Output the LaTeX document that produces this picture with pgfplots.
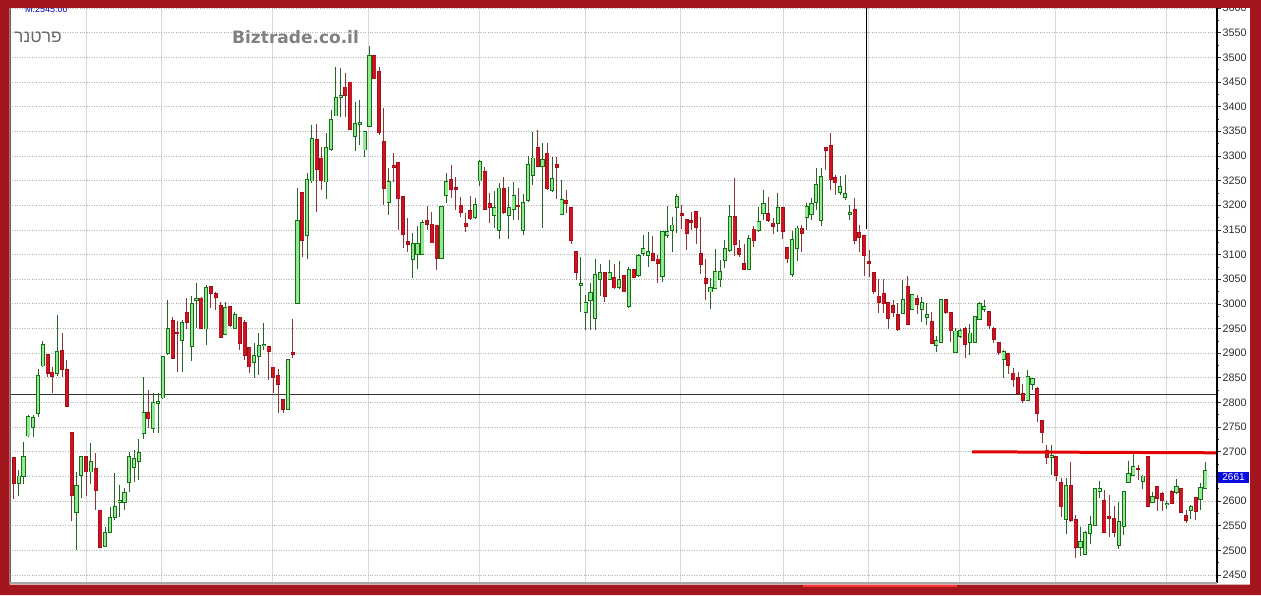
\documentclass[border=0pt]{standalone}
\usepackage{pgfplots}
\usepackage{pgfplotstable}
\pgfplotsset{compat=1.18}
\usepackage{fontspec}
\setmainfont{Liberation Sans}
\newfontfamily\hebfont[Script=Hebrew]{Liberation Sans}
\newfontfamily\dejavu{DejaVu Sans}
\TeXXeTstate=1

\definecolor{framec}{RGB}{163,22,30}
\definecolor{gfill}{RGB}{144,234,144}
\definecolor{gline}{RGB}{22,110,22}
\definecolor{gwick}{RGB}{40,100,40}
\definecolor{rfill}{RGB}{205,20,35}
\definecolor{rline}{RGB}{160,14,24}
\definecolor{rwick}{RGB}{140,55,55}
\definecolor{tickc}{RGB}{45,45,45}
\definecolor{pricebox}{RGB}{10,10,225}
\definecolor{wmark}{RGB}{128,128,128}
\definecolor{hebc}{RGB}{105,105,105}

\pgfplotstableread{
i o h l c
0 2687 2690 2604 2637
1 2636 2663 2610 2650
2 2650 2720 2635 2689
3 2733 2775 2731 2771
4 2750 2775 2731 2769
5 2778 2867 2771 2854
6 2875 2925 2871 2916
7 2896 2897 2852 2859
8 2861 2871 2820 2854
9 2859 2978 2854 2903
10 2905 2940 2852 2867
11 2866 2886 2792 2793
12 2738 2739 2560 2612
13 2577 2660 2500 2631
14 2653 2690 2606 2689
15 2689 2690 2610 2660
16 2660 2717 2635 2679
17 2666 2698 2583 2623
18 2581 2582 2504 2506
19 2508 2548 2506 2535
20 2538 2589 2537 2566
21 2568 2658 2562 2589
22 2599 2633 2568 2601
23 2598 2626 2582 2617
24 2638 2700 2619 2689
25 2669 2704 2639 2685
26 2682 2725 2643 2698
27 2738 2851 2727 2779
28 2779 2825 2748 2769
29 2749 2820 2738 2800
30 2799 2819 2738 2801
31 2810 2894 2808 2893
32 2900 3008 2896 2949
33 2965 2974 2889 2890
34 2941 2965 2862 2940
35 2927 2967 2862 2961
36 2982 3011 2950 2964
37 2915 3015 2885 2999
38 3008 3042 2951 3010
39 3011 3013 2950 2951
40 2950 3038 2917 3032
41 3034 3035 2991 3022
42 3020 3025 2988 3013
43 2996 3004 2930 2933
44 2939 3004 2937 2992
45 2993 2994 2954 2957
46 2951 2984 2949 2978
47 2971 2974 2906 2920
48 2961 2967 2886 2896
49 2910 2911 2859 2873
50 2882 2920 2849 2894
51 2894 2940 2856 2915
52 2916 2962 2906 2917
53 2912 2913 2846 2905
54 2871 2872 2819 2852
55 2854 2867 2779 2838
56 2806 2807 2779 2787
57 2786 2887 2785 2886
58 2901 2969 2890 2899
59 3001 3234 3000 3169
60 3225 3227 3096 3130
61 3140 3265 3092 3251
62 3250 3363 3245 3334
63 3332 3365 3187 3273
64 3295 3319 3231 3250
65 3248 3346 3212 3316
66 3314 3393 3311 3373
67 3382 3481 3380 3418
68 3419 3478 3378 3421
69 3439 3468 3378 3424
70 3449 3450 3353 3354
71 3340 3410 3311 3365
72 3365 3413 3322 3367
73 3313 3349 3298 3348
74 3361 3523 3360 3503
75 3503 3504 3456 3457
76 3470 3480 3342 3349
77 3329 3397 3201 3234
78 3207 3275 3180 3248
79 3279 3305 3248 3277
80 3285 3286 3150 3214
81 3217 3218 3113 3142
82 3126 3174 3106 3121
83 3090 3144 3052 3121
84 3101 3157 3070 3121
85 3101 3170 3099 3165
86 3169 3198 3150 3161
87 3161 3186 3124 3125
88 3159 3160 3069 3093
89 3093 3199 3092 3196
90 3221 3265 3204 3247
91 3251 3282 3214 3233
92 3235 3258 3190 3233
93 3199 3217 3177 3187
94 3163 3184 3146 3157
95 3188 3219 3170 3173
96 3176 3215 3173 3200
97 3250 3292 3239 3287
98 3267 3277 3190 3192
99 3202 3225 3165 3197
100 3180 3229 3153 3195
101 3150 3245 3131 3234
102 3234 3258 3183 3186
103 3180 3236 3131 3194
104 3193 3247 3170 3219
105 3199 3234 3170 3198
106 3150 3223 3140 3204
107 3211 3300 3207 3282
108 3261 3349 3241 3295
109 3317 3353 3279 3280
110 3280 3326 3153 3292
111 3305 3326 3231 3234
112 3231 3298 3227 3253
113 3282 3298 3212 3277
114 3182 3251 3180 3211
115 3209 3231 3184 3204
116 3195 3196 3121 3130
117 3105 3106 3048 3065
118 3039 3096 2984 3041
119 2984 3018 2947 3001
120 3008 3043 2948 3023
121 2971 3092 2947 3059
122 3050 3081 3015 3063
123 3063 3064 3004 3015
124 3050 3089 3048 3062
125 3053 3080 3031 3033
126 3035 3086 3031 3048
127 3057 3058 3024 3025
128 2996 3075 2991 3069
129 3069 3071 3052 3055
130 3059 3101 3055 3097
131 3103 3140 3097 3111
132 3099 3146 3075 3105
133 3101 3138 3088 3089
134 3090 3099 3042 3082
135 3057 3147 3045 3145
136 3140 3198 3133 3145
137 3150 3177 3106 3159
138 3196 3223 3144 3216
139 3182 3201 3151 3180
140 3170 3172 3109 3144
141 3168 3187 3150 3166
142 3186 3187 3121 3155
143 3101 3177 3060 3081
144 3051 3090 3008 3043
145 3025 3052 2989 3032
146 3032 3111 3030 3065
147 3050 3089 3035 3065
148 3089 3130 3072 3111
149 3109 3201 3106 3176
150 3176 3255 3097 3121
151 3111 3130 3096 3101
152 3081 3121 3069 3070
153 3070 3140 3069 3132
154 3151 3157 3116 3130
155 3150 3197 3146 3167
156 3185 3231 3170 3202
157 3182 3216 3167 3170
158 3163 3174 3141 3158
159 3163 3224 3146 3195
160 3195 3196 3131 3148
161 3113 3114 3082 3092
162 3061 3148 3055 3130
163 3113 3157 3086 3153
164 3153 3160 3106 3143
165 3176 3205 3150 3196
166 3182 3214 3170 3203
167 3207 3275 3190 3241
168 3170 3275 3158 3257
169 3316 3319 3271 3311
170 3320 3347 3231 3253
171 3256 3261 3221 3246
172 3226 3259 3221 3237
173 3217 3261 3211 3223
174 3183 3201 3171 3184
175 3190 3215 3121 3130
176 3144 3160 3106 3136
177 3138 3139 3057 3099
178 3085 3109 3055 3083
179 3062 3063 3020 3025
180 3015 3050 2981 3004
181 3021 3050 2982 3001
182 3001 3002 2950 2971
183 2996 3008 2974 2984
184 2977 3001 2946 2948
185 2981 3048 2979 3008
186 3035 3057 2958 2959
187 2989 3019 2987 3018
188 3010 3018 2979 2999
189 2989 3013 2964 3001
190 2973 3001 2957 2977
191 2964 2984 2918 2920
192 2917 2935 2903 2925
193 2923 3009 2922 3008
194 3008 3010 2979 2984
195 2981 2982 2923 2946
196 2903 2952 2902 2944
197 2934 2950 2930 2946
198 2950 2954 2890 2919
199 2922 2959 2896 2940
200 2922 2975 2920 2974
201 2969 3004 2967 3000
202 2989 3008 2984 2994
203 2983 2986 2950 2956
204 2950 2954 2921 2929
205 2920 2922 2896 2902
206 2888 2907 2849 2902
207 2898 2900 2858 2876
208 2859 2869 2832 2847
209 2849 2862 2817 2819
210 2817 2837 2800 2805
211 2805 2866 2803 2851
212 2837 2849 2825 2848
213 2827 2832 2761 2779
214 2763 2764 2717 2739
215 2702 2714 2675 2690
216 2689 2714 2653 2692
217 2690 2691 2641 2652
218 2637 2646 2568 2589
219 2563 2646 2533 2631
220 2631 2680 2558 2562
221 2562 2572 2484 2506
222 2506 2547 2489 2518
223 2493 2540 2490 2536
224 2536 2570 2514 2552
225 2552 2626 2549 2624
226 2621 2641 2606 2624
227 2600 2623 2536 2538
228 2568 2612 2528 2566
229 2564 2590 2527 2538
230 2511 2599 2502 2557
231 2550 2621 2531 2619
232 2638 2682 2636 2656
233 2653 2697 2650 2669
234 2665 2673 2643 2664
235 2641 2653 2624 2650
236 2689 2690 2588 2590
237 2599 2619 2596 2608
238 2628 2629 2579 2606
239 2614 2619 2579 2602
240 2593 2601 2585 2594
241 2618 2623 2594 2596
242 2619 2644 2614 2629
243 2624 2626 2575 2577
244 2570 2581 2556 2562
245 2581 2592 2563 2589
246 2606 2609 2562 2580
247 2604 2636 2583 2626
248 2626 2680 2624 2661
}\candles

\pgfplotsset{
  cndl/.style 2 args={only marks, no markers, mark size=0pt,
    mark options={draw=none, fill=none},
    restrict x to domain=-5:260,
    error bars/.cd, y dir=minus, y explicit, error mark=none,
    error bar style={draw=#1, solid, line width=#2}},
}

\begin{document}
\begin{tikzpicture}
\begin{axis}[
  scale only axis, width=1207pt, height=574pt,
  xmin=-0.83, xmax=250.42, ymin=2436, ymax=3600,
  axis line style={draw=none},
  xtick={15,30.8,53.9,73.7,96.8,118.9,138.8,160.1,177.8,196.9,216.7,240},
  xticklabels={},
  major x tick style={draw=none},
  xmajorgrids, ymajorgrids,
  major x grid style={gray!30, line width=0.9pt},
  major y grid style={gray!60, dotted, line width=0.8pt},
  ytick={2450,2500,...,3600},
  minor y tick num=1,
  ytick pos=right, yticklabel pos=right,
  tick align=outside,
  major tick length=4pt, minor tick length=2.5pt,
  y tick style={tickc, line width=0.7pt},
  /pgf/number format/1000 sep={},
  /pgf/number format/assume math mode=true,
  yticklabel style={font=\fontsize{10.8}{12}\selectfont, text=tickc, inner xsep=1.5pt},
  clip=true,
]
\coordinate (P0) at (rel axis cs:0,0);
% crosshair lines
\draw[black!80, line width=1.2pt] (axis cs:-0.83,2816) -- (axis cs:250.42,2816);
\draw[black, line width=1pt] (axis cs:177.56,3600) -- (axis cs:177.56,3152);

% green (rising) candles: wick, outline, fill
\addplot[cndl={gwick}{1pt}]
  table[x expr={\thisrow{c}>=\thisrow{o} ? \thisrow{i} : -100}, y=h,
        y error minus expr={\thisrow{h}-\thisrow{l}}] {\candles};
\addplot[cndl={gline}{4.2pt}]
  table[x expr={\thisrow{c}>=\thisrow{o} ? \thisrow{i} : -100}, y expr={\thisrow{c}+1.8},
        y error minus expr={\thisrow{c}-\thisrow{o}+3.6}] {\candles};
\addplot[cndl={gfill}{2.4pt}]
  table[x expr={\thisrow{c}>=\thisrow{o} ? \thisrow{i} : -100}, y=c,
        y error minus expr={\thisrow{c}-\thisrow{o}}] {\candles};

% red (falling) candles: wick, outline, fill
\addplot[cndl={rwick}{1pt}]
  table[x expr={\thisrow{c}<\thisrow{o} ? \thisrow{i} : -100}, y=h,
        y error minus expr={\thisrow{h}-\thisrow{l}}] {\candles};
\addplot[cndl={rline}{4pt}]
  table[x expr={\thisrow{c}<\thisrow{o} ? \thisrow{i} : -100}, y expr={\thisrow{o}+1.8},
        y error minus expr={\thisrow{o}-\thisrow{c}+3.6}] {\candles};
\addplot[cndl={rfill}{2.6pt}]
  table[x expr={\thisrow{c}<\thisrow{o} ? \thisrow{i} : -100}, y=o,
        y error minus expr={\thisrow{o}-\thisrow{c}}] {\candles};

% red resistance line
\draw[red!90!black, line width=3pt] (axis cs:199.4,2700) -- (axis cs:250.42,2698);
\end{axis}

\begin{scope}[shift={(P0)}, xshift=-10pt, yshift=-13pt, x=1pt, y=1pt]
% right axis line, left and bottom frame lines
\draw[black, line width=1.2pt] (1217,12) -- (1217,587);
\draw[gray!80!black, line width=1.5pt] (10.5,11) -- (10.5,587);
\draw[gray!70, line width=2pt] (10,12) -- (1217,12);

% watermark texts
\node[anchor=west, inner sep=0, text=hebc] at (14,557.5)
  {\fontsize{17.5}{19}\selectfont\hebfont\beginR פרטנר\endR};
\node[anchor=west, inner sep=0, text=wmark] at (232,557.5)
  {\fontsize{17}{20}\selectfont\dejavu\bfseries Biztrade.co.il};
\node[anchor=west, inner sep=0, text=blue!75!black] at (25,586)
  {\fontsize{9}{10}\selectfont M:2545.00};

% price box
\fill[pricebox] (1218,112) rectangle (1249,123);
\node[text=white, inner sep=0] at (1233.5,117.5) {\fontsize{10}{11}\selectfont 2661};

% outer frame
\fill[framec, even odd rule] (0,0) rectangle (1261,595) (9.5,10.5) rectangle (1250,587);
\fill[red!80!white] (803,8.5) rectangle (957,10.5);
\end{scope}

\pgfresetboundingbox
\begin{scope}[shift={(P0)}, xshift=-10pt, yshift=-13pt, x=1pt, y=1pt]
\useasboundingbox (0,0) rectangle (1261,595);
\end{scope}
\end{tikzpicture}
\end{document}
